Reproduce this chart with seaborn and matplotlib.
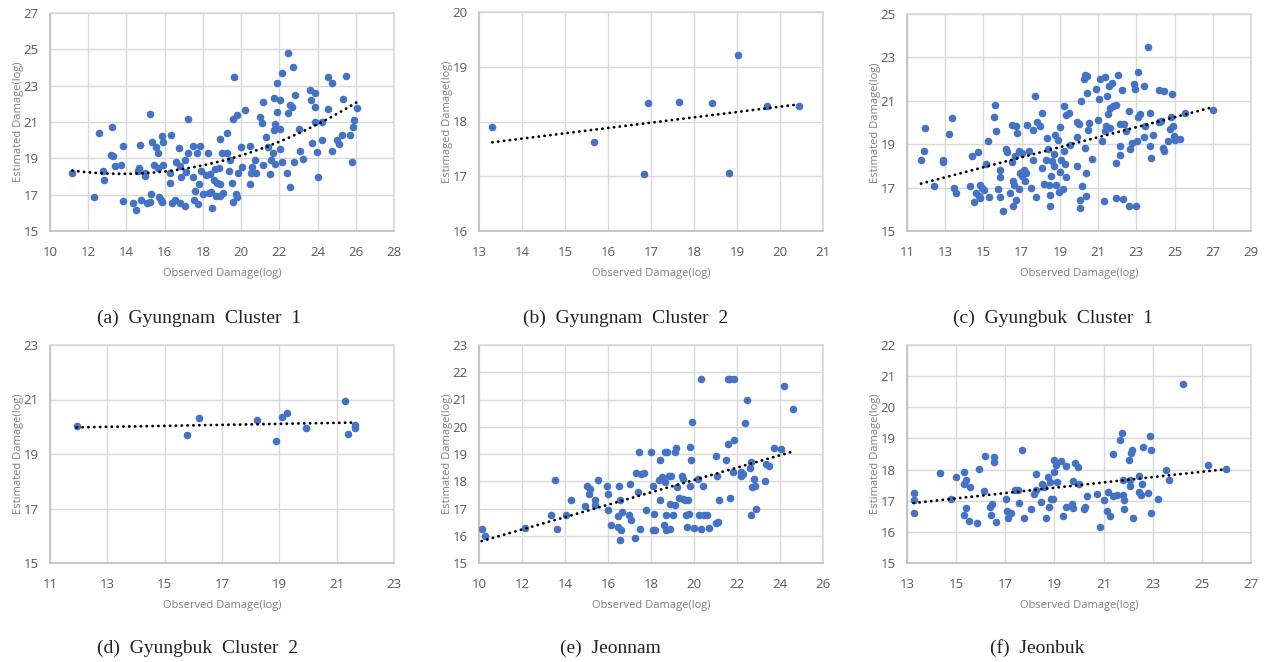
import matplotlib
matplotlib.use("Agg")
import matplotlib.pyplot as plt
import seaborn as sns
import numpy as np

# (a) Gyungnam Cluster 1
gn1_obs = [11.17, 12.32, 12.58, 12.79, 12.85, 13.22, 13.19, 13.31, 13.41, 13.69,
           13.83, 13.83, 14.32, 14.51, 14.58, 14.67, 14.70, 14.76, 14.95, 14.98,
           15.07, 15.21, 15.23, 15.31, 15.35, 15.44, 15.57, 15.64, 15.66, 15.71,
           15.82, 15.87, 15.89, 15.89, 15.87, 16.31, 16.27, 16.27, 16.36, 16.55,
           16.57, 16.76, 16.81, 16.86, 16.81, 17.04, 17.07, 17.21, 17.21, 17.13,
           17.47, 17.49, 17.53, 17.58, 17.68, 17.79, 17.74, 17.87, 17.91, 17.98,
           18.14, 18.28, 18.36, 18.31, 18.45, 18.50, 18.57, 18.62, 18.71, 18.75,
           18.83, 18.89, 18.89, 18.92, 19.02, 19.06, 19.27, 19.27, 19.37, 19.41,
           19.50, 19.58, 19.65, 19.58, 19.72, 19.79, 19.81, 19.86, 19.97, 20.07,
           20.21, 20.45, 20.49, 20.52, 20.59, 20.71, 20.80, 21.01, 21.15, 21.11,
           21.15, 21.32, 21.43, 21.53, 21.59, 21.67, 21.72, 21.72, 21.76, 21.76,
           21.88, 21.90, 22.02, 22.02, 22.06, 22.13, 22.16, 22.40, 22.44, 22.44,
           22.54, 22.58, 22.67, 22.72, 22.75, 22.84, 23.03, 23.07, 23.24, 23.62,
           23.64, 23.73, 23.85, 23.87, 23.85, 23.99, 24.04, 24.25, 24.25, 24.55,
           24.55, 24.77, 24.77, 25.02, 25.12, 25.30, 25.33, 25.47, 25.68, 25.82,
           25.85, 25.89, 26.06]
gn1_est = [18.22, 16.88, 20.37, 18.31, 17.83, 20.74, 19.17, 19.12, 18.57, 18.66,
           19.67, 16.65, 16.56, 16.14, 18.31, 18.49, 19.72, 16.73, 18.22, 18.01,
           16.54, 21.43, 16.58, 17.06, 19.91, 18.62, 19.63, 19.30, 18.47, 16.88,
           16.73, 20.22, 19.91, 18.62, 16.60, 20.27, 18.22, 17.65, 16.54, 16.73,
           18.79, 19.58, 18.58, 17.98, 16.56, 16.36, 18.93, 21.14, 19.30, 18.24,
           19.69, 17.98, 16.73, 17.21, 19.30, 17.57, 16.47, 19.69, 18.31, 17.02,
           18.07, 19.30, 18.16, 17.10, 17.15, 16.29, 17.79, 18.44, 16.91, 17.65,
           18.49, 20.04, 16.91, 17.61, 19.30, 17.10, 20.37, 19.27, 18.31, 18.93,
           17.65, 16.60, 23.49, 21.14, 17.06, 16.88, 21.38, 18.20, 19.60, 18.53,
           21.65, 19.67, 17.61, 18.20, 18.53, 18.90, 18.20, 21.29, 22.11, 20.96,
           18.66, 20.18, 19.63, 18.16, 18.90, 19.30, 22.30, 20.55, 20.88, 18.71,
           23.16, 21.56, 22.21, 19.54, 20.64, 23.68, 18.81, 18.20, 24.82, 21.47,
           17.43, 21.93, 21.80, 24.00, 18.81, 22.48, 20.59, 19.41, 18.99, 22.76,
           22.21, 19.85, 22.58, 21.80, 21.01, 19.36, 17.98, 21.01, 20.00, 23.45,
           21.69, 23.12, 19.41, 20.00, 19.78, 20.28, 22.24, 23.53, 20.28, 18.81,
           20.74, 21.10, 21.75]

# (b) Gyungnam Cluster 2
gn2_obs = [13.31, 15.67, 16.84, 16.94, 17.65, 18.41, 18.81, 19.02, 19.70, 20.44]
gn2_est = [17.90, 17.63, 17.05, 18.34, 18.36, 18.34, 17.06, 19.21, 18.28, 18.28]

# (c) Gyungbuk Cluster 1
gb1_obs = [11.73, 11.87, 11.96, 12.40, 12.87, 12.88, 13.20, 13.34, 13.48, 13.56,
           14.28, 14.40, 14.52, 14.72, 14.63, 14.75, 14.84, 14.80, 14.92, 15.01,
           15.13, 15.24, 15.31, 15.57, 15.62, 15.64, 15.78, 15.88, 15.85, 15.85,
           16.02, 16.18, 16.23, 16.41, 16.48, 16.49, 16.55, 16.53, 16.62, 16.67,
           16.70, 16.72, 16.76, 16.84, 16.88, 16.93, 17.02, 17.02, 17.10, 17.16,
           17.23, 17.28, 17.37, 17.49, 17.58, 17.59, 17.68, 17.75, 17.80, 17.98,
           18.06, 18.06, 18.19, 18.26, 18.33, 18.36, 18.43, 18.47, 18.50, 18.54,
           18.59, 18.67, 18.67, 18.76, 18.81, 18.88, 18.94, 19.02, 19.02, 19.06,
           19.16, 19.20, 19.23, 19.29, 19.34, 19.30, 19.46, 19.55, 19.90, 19.90,
           19.90, 20.00, 20.04, 20.07, 20.11, 20.16, 20.30, 20.28, 20.33, 20.37,
           20.38, 20.42, 20.42, 20.45, 20.51, 20.68, 20.91, 21.00, 21.05, 21.12,
           21.20, 21.29, 21.34, 21.38, 21.43, 21.47, 21.50, 21.55, 21.61, 21.64,
           21.73, 21.78, 21.94, 21.95, 21.92, 22.04, 22.13, 22.13, 22.16, 22.25,
           22.30, 22.37, 22.44, 22.60, 22.62, 22.69, 22.79, 22.86, 22.95, 22.97,
           23.04, 23.09, 23.09, 23.18, 23.38, 23.42, 23.44, 23.59, 23.70, 23.70,
           23.79, 23.87, 24.17, 24.19, 24.29, 24.40, 24.43, 24.43, 24.66, 24.78,
           24.83, 24.87, 24.92, 24.95, 25.04, 25.30, 25.53, 27.00]
gb1_est = [18.28, 18.67, 19.74, 17.06, 18.28, 18.16, 19.46, 20.23, 16.98, 16.75,
           17.09, 18.47, 16.32, 18.62, 16.75, 16.60, 17.13, 16.52, 16.98, 16.90,
           18.10, 19.17, 16.56, 20.25, 20.81, 19.63, 16.93, 17.79, 17.48, 16.56,
           15.90, 18.77, 18.62, 16.75, 18.16, 19.89, 17.29, 16.17, 17.13, 18.44,
           19.82, 16.41, 19.51, 16.93, 18.67, 17.67, 18.59, 17.52, 17.79, 17.29,
           17.67, 19.89, 18.67, 16.98, 19.66, 18.25, 21.20, 16.56, 20.00, 19.82,
           20.43, 17.90, 17.18, 18.25, 19.28, 18.77, 17.13, 16.17, 16.67, 17.52,
           18.21, 18.56, 17.98, 19.43, 17.13, 19.20, 16.78, 19.79, 17.70, 18.28,
           16.93, 18.67, 20.77, 18.10, 17.48, 20.35, 20.46, 18.97, 20.00, 19.33,
           17.98, 19.94, 16.44, 16.06, 21.01, 17.09, 18.82, 21.99, 22.19, 17.67,
           16.60, 22.12, 21.38, 19.66, 19.97, 18.31, 21.53, 20.12, 21.07, 21.99,
           19.17, 16.37, 22.09, 19.63, 19.82, 21.23, 20.40, 21.69, 20.66, 19.74,
           21.84, 20.74, 20.81, 18.13, 16.52, 22.19, 18.90, 18.51, 19.94, 21.50,
           16.47, 19.94, 19.63, 20.55, 16.13, 18.77, 19.05, 21.78, 21.53, 16.17,
           19.13, 22.35, 20.25, 20.40, 19.33, 21.69, 19.82, 23.50, 20.43, 18.93,
           18.36, 19.43, 20.00, 21.50, 20.05, 18.82, 21.43, 18.67, 19.13, 19.69,
           20.25, 21.32, 19.82, 19.39, 19.20, 19.23, 20.43, 20.58]

# (d) Gyungbuk Cluster 2
gb2_obs = [11.93, 15.78, 16.20, 18.22, 18.90, 19.11, 19.27, 19.94, 21.29, 21.41, 21.65, 21.65]
gb2_est = [20.02, 19.70, 20.31, 20.25, 19.46, 20.35, 20.50, 19.97, 20.93, 19.74, 20.05, 19.95]

# (e) Jeonnam
jn_obs = [10.12, 10.28, 12.14, 13.33, 13.55, 13.64, 14.03, 14.29, 14.95, 15.00,
          15.10, 15.15, 15.38, 15.41, 15.52, 15.95, 16.00, 16.00, 16.16, 16.47,
          16.50, 16.47, 16.54, 16.54, 16.62, 16.65, 17.01, 16.98, 17.09, 17.24,
          17.32, 17.40, 17.44, 17.50, 17.55, 17.66, 17.78, 18.00, 18.09, 18.14,
          18.19, 18.09, 18.43, 18.37, 18.40, 18.53, 18.60, 18.64, 18.67, 18.68,
          18.71, 18.74, 18.84, 18.87, 18.87, 18.95, 19.02, 19.10, 19.15, 19.10,
          19.21, 19.30, 19.44, 19.49, 19.49, 19.60, 19.64, 19.69, 19.72, 19.77,
          19.80, 19.83, 19.88, 19.91, 19.98, 20.19, 20.22, 20.34, 20.34, 20.42,
          20.47, 20.62, 20.70, 21.01, 21.04, 21.09, 21.12, 21.15, 21.47, 21.58,
          21.58, 21.69, 21.69, 21.81, 21.84, 21.86, 22.17, 22.20, 22.28, 22.39,
          22.48, 22.59, 22.64, 22.67, 22.68, 22.79, 22.85, 22.90, 23.29, 23.36,
          23.49, 23.71, 24.06, 24.19, 24.60]
jn_est = [16.26, 15.98, 16.30, 16.77, 18.03, 16.26, 16.75, 17.30, 17.08, 17.81,
          17.52, 17.73, 17.30, 17.12, 18.03, 17.81, 17.54, 16.96, 16.38, 16.71,
          17.81, 16.32, 17.30, 15.83, 16.22, 16.87, 17.91, 16.75, 16.57, 15.93,
          18.30, 17.61, 19.07, 16.26, 18.28, 18.30, 16.96, 19.07, 17.81, 16.79,
          16.20, 16.20, 18.79, 18.06, 17.30, 18.16, 16.38, 19.07, 17.97, 16.75,
          16.20, 19.07, 18.18, 17.15, 16.26, 18.18, 16.75, 19.07, 19.23, 17.12,
          17.79, 17.40, 18.18, 18.10, 17.36, 17.32, 16.75, 16.32, 17.32, 16.81,
          17.81, 19.26, 18.79, 20.17, 16.28, 18.10, 16.77, 21.76, 16.26, 17.81,
          16.75, 16.77, 16.28, 16.47, 18.91, 18.18, 16.50, 17.32, 18.77, 21.76,
          19.38, 21.76, 17.40, 18.34, 21.76, 19.53, 18.34, 18.18, 18.28, 20.14,
          21.00, 18.50, 16.77, 18.71, 17.79, 18.10, 17.81, 17.00, 18.00, 18.65,
          18.55, 19.23, 19.20, 21.48, 20.66]

# (f) Jeonbuk
jb_obs = [13.27, 13.30, 13.27, 14.33, 14.81, 15.01, 15.31, 15.31, 15.39, 15.34,
          15.39, 15.51, 15.58, 15.83, 15.91, 16.14, 16.18, 16.36, 16.40, 16.44,
          16.53, 16.53, 16.62, 17.01, 17.08, 17.12, 17.25, 17.39, 17.53, 17.55,
          17.66, 17.76, 18.04, 18.18, 18.27, 18.27, 18.44, 18.48, 18.57, 18.65,
          18.75, 18.78, 18.84, 18.86, 18.95, 18.98, 18.98, 19.06, 19.12, 19.27,
          19.36, 19.46, 19.47, 19.70, 19.77, 19.77, 19.84, 19.97, 20.01, 20.22,
          20.24, 20.34, 20.72, 20.86, 21.02, 21.13, 21.20, 21.26, 21.37, 21.37,
          21.56, 21.67, 21.74, 21.78, 21.78, 21.84, 21.84, 22.03, 22.06, 22.08,
          22.12, 22.15, 22.19, 22.43, 22.45, 22.51, 22.56, 22.60, 22.80, 22.87,
          22.94, 22.92, 23.23, 23.55, 23.68, 24.23, 25.27, 25.98]
jb_est = [17.25, 17.02, 16.59, 17.89, 17.07, 17.77, 17.93, 17.53, 17.68, 16.53,
          16.78, 16.35, 17.44, 16.29, 18.03, 17.32, 18.45, 16.80, 16.53, 16.91,
          18.39, 18.23, 16.32, 17.07, 16.67, 16.46, 16.61, 17.34, 17.34, 16.93,
          18.64, 16.46, 16.75, 17.23, 17.85, 17.36, 16.96, 17.55, 17.44, 16.46,
          17.77, 16.80, 17.60, 17.07, 17.07, 18.32, 17.93, 18.14, 17.60, 18.28,
          16.50, 16.80, 18.11, 16.89, 16.78, 17.64, 18.22, 18.07, 17.55, 16.75,
          16.80, 17.14, 17.21, 16.16, 17.02, 16.66, 17.28, 16.50, 18.49, 17.14,
          17.18, 18.94, 19.18, 17.66, 17.18, 17.02, 16.75, 18.30, 17.47, 17.66,
          18.52, 18.64, 16.43, 17.79, 17.28, 17.18, 17.53, 18.71, 17.25, 19.07,
          18.64, 16.61, 17.04, 18.00, 17.68, 20.74, 18.16, 18.03]

captions = ["(a)  Gyungnam  Cluster  1", "(b)  Gyungnam  Cluster  2",
            "(c)  Gyungbuk  Cluster  1", "(d)  Gyungbuk  Cluster  2",
            "(e)  Jeonnam", "(f)  Jeonbuk"]
ylabels = ["Estimated Damage(log)", "Estimaged Damage(log)", "Estimated Damage(log)",
           "Estimated Damage(log)", "Estimated Damage(log)", "Estimated Damage(log)"]

sns.set_theme(style="white")
plt.rcParams["font.family"] = ["Open Sans", "DejaVu Sans"]

W, H = 1266, 662
fig = plt.figure(figsize=(W / 100, H / 100), dpi=100)

# panel settings: data, x ticks, y ticks, fit order, box in pixels
panels = [
    (gn1_obs, gn1_est, np.arange(10, 29, 2), np.arange(15, 28, 2), 2, (50, 13, 394, 231)),
    (gn2_obs, gn2_est, np.arange(13, 22, 1), np.arange(16, 21, 1), 1, (479, 12, 823, 231)),
    (gb1_obs, gb1_est, np.arange(11, 30, 2), np.arange(15, 26, 2), 1, (907, 14, 1251, 231)),
    (gb2_obs, gb2_est, np.arange(11, 24, 2), np.arange(15, 24, 2), 1, (50, 345, 394, 563)),
    (jn_obs, jn_est, np.arange(10, 27, 2), np.arange(15, 24, 1), 1, (479, 345, 823, 563)),
    (jb_obs, jb_est, np.arange(13, 28, 2), np.arange(15, 23, 1), 1, (907, 345, 1251, 563)),
]
caption_pos = [(199, 318), (626, 318), (1053, 318), (198, 648), (610, 648), (1037, 648)]

for i, (xs, ys, xt, yt, order, box) in enumerate(panels):
    x0, y0, x1, y1 = box
    ax = fig.add_axes([x0 / W, 1 - y1 / H, (x1 - x0) / W, (y1 - y0) / H])
    sns.scatterplot(x=xs, y=ys, ax=ax, color="#4472C4", s=30, linewidth=0, zorder=3)
    sns.regplot(x=xs, y=ys, ax=ax, scatter=False, ci=None, order=order,
                line_kws=dict(color="black", lw=2.0, ls=(0, (0.1, 2.0)),
                              dash_capstyle="round", zorder=4))
    ax.set_xlim(xt[0], xt[-1])
    ax.set_ylim(yt[0], yt[-1])
    ax.set_xticks(xt)
    ax.set_yticks(yt)
    ax.grid(True, color="#D9D9D9", lw=1)
    for s in ax.spines.values():
        s.set_color("#D9D9D9")
    for s in ["left", "bottom"]:
        ax.spines[s].set_color("#BFBFBF")
    ax.tick_params(length=0, labelsize=9.5, labelcolor="#595959")
    ax.tick_params(axis="x", pad=11)
    ax.tick_params(axis="y", pad=8)
    ax.set_xlabel("Observed Damage(log)", fontsize=8, color="#7F7F7F", labelpad=6)
    ax.set_ylabel(ylabels[i], fontsize=8, color="#7F7F7F", labelpad=0)
    cx, cy = caption_pos[i]
    fig.text(cx / W, 1 - cy / H, captions[i], ha="center", va="center",
             fontsize=14, family=["Liberation Serif", "DejaVu Serif"], color="#222222")

fig.savefig("out.png", dpi=100)
